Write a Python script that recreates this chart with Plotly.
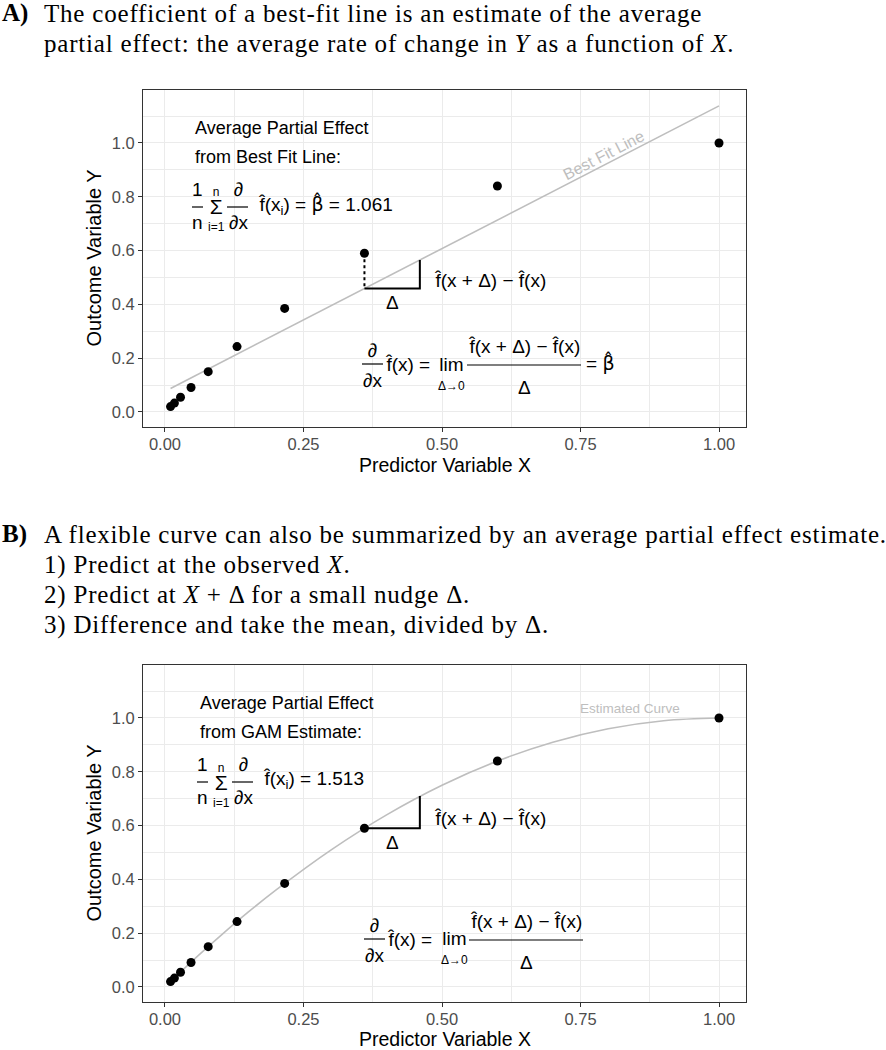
import plotly.graph_objects as go

# ---------------- data ----------------
x_obs = [0.010, 0.017, 0.028, 0.047, 0.078, 0.130, 0.216, 0.360, 0.600, 1.000]
y_obs = [0.020, 0.033, 0.055, 0.091, 0.150, 0.243, 0.385, 0.590, 0.840, 1.000]

fit_intercept = 0.077
fit_slope = 1.061
fit_x = [0.01, 1.0]

curve_x = [0.01, 0.05, 0.10, 0.15, 0.20, 0.30, 0.40, 0.50, 0.60, 0.70, 0.80, 0.90, 1.00]
curve_y = [0.020, 0.098, 0.190, 0.278, 0.360, 0.510, 0.640, 0.750, 0.840, 0.910, 0.960, 0.990, 1.000]

delta_x0 = 0.36
delta = 0.10
obs_at_x0 = 0.59
curve_at_x0 = 0.59
curve_at_x1 = 0.71

ape_line = "1.061"
ape_gam = "1.513"

x_ticks = [0.0, 0.25, 0.50, 0.75, 1.0]
x_tick_labels = ["0.00", "0.25", "0.50", "0.75", "1.00"]
y_ticks = [0.0, 0.2, 0.4, 0.6, 0.8, 1.0]
y_tick_labels = ["0.0", "0.2", "0.4", "0.6", "0.8", "1.0"]

x_title = "Predictor Variable X"
y_title = "Outcome Variable Y"

# ---------------- layout constants ----------------
W, H = 886, 1050
SANS = "Liberation Sans, Arial, Helvetica, sans-serif"
SERIF = "Liberation Serif, Times New Roman, serif"
GRID = "#ebebeb"
BORDER = "#333333"
LINEGRAY = "#bebebe"
HAT = "\u0302"
BETA_HAT = "<span style=\"font-family:'DejaVu Sans'\">\u03b2\u0302</span>"
B_TOP, B_BOTTOM = 665, 1002
DY_B = B_TOP - 90

def px(x):
    return x / W

def py(y):
    return 1 - y / H

fit_y = [fit_intercept + fit_slope * v for v in fit_x]
fit_at = lambda v: fit_intercept + fit_slope * v

fig = go.Figure()

# ---------- Panel A ----------
fig.add_trace(go.Scatter(x=fit_x, y=fit_y, mode="lines",
                         line=dict(color=LINEGRAY, width=1.6),
                         xaxis="x", yaxis="y", hoverinfo="skip"))
fig.add_trace(go.Scatter(x=[delta_x0, delta_x0], y=[obs_at_x0, fit_at(delta_x0)], mode="lines",
                         line=dict(color="black", width=2, dash="dot"),
                         xaxis="x", yaxis="y", hoverinfo="skip"))
fig.add_trace(go.Scatter(x=[delta_x0, delta_x0 + delta, delta_x0 + delta],
                         y=[fit_at(delta_x0), fit_at(delta_x0), fit_at(delta_x0 + delta)],
                         mode="lines", line=dict(color="black", width=2),
                         xaxis="x", yaxis="y", hoverinfo="skip"))
fig.add_trace(go.Scatter(x=x_obs, y=y_obs, mode="markers",
                         marker=dict(color="black", size=9),
                         xaxis="x", yaxis="y"))

# ---------- Panel B ----------
fig.add_trace(go.Scatter(x=curve_x, y=curve_y, mode="lines",
                         line=dict(color=LINEGRAY, width=1.6, shape="spline", smoothing=1.0),
                         xaxis="x2", yaxis="y2", hoverinfo="skip"))
fig.add_trace(go.Scatter(x=[delta_x0, delta_x0 + delta, delta_x0 + delta],
                         y=[curve_at_x0, curve_at_x0, curve_at_x1],
                         mode="lines", line=dict(color="black", width=2),
                         xaxis="x2", yaxis="y2", hoverinfo="skip"))
fig.add_trace(go.Scatter(x=x_obs, y=y_obs, mode="markers",
                         marker=dict(color="black", size=9),
                         xaxis="x2", yaxis="y2"))

annotations = []
shapes = []

def txt(text, x, y, size=19, xanchor="center", color="black", font=SANS, angle=0):
    annotations.append(dict(text=text, x=px(x), y=py(y), xref="paper", yref="paper",
                            xanchor=xanchor, yanchor="middle", showarrow=False,
                            textangle=angle,
                            font=dict(family=font, size=size, color=color)))

def stack(lines, x, y, spacing):
    """Several centred lines in one text, each with its own size, baseline gap = spacing."""
    base = spacing / 1.3
    text = "<br>".join('<span style="font-size:%gpx">%s</span>' % (s, t) for t, s in lines)
    annotations.append(dict(text=text, x=px(x), y=py(y), xref="paper", yref="paper",
                            xanchor="center", yanchor="middle", align="center",
                            showarrow=False, font=dict(family=SANS, size=base, color="black")))

def bar(x0, x1, y):
    shapes.append(dict(type="line", xref="paper", yref="paper",
                       x0=px(x0), x1=px(x1), y0=py(y), y1=py(y),
                       line=dict(color="black", width=1.2)))

def top_formula(dx, dy, label1, label2, rhs):
    txt(label1, 193 + dx, 128 + dy, size=18, xanchor="left")
    txt(label2, 193 + dx, 157 + dy, size=18, xanchor="left")
    stack([("1", 19), ("n", 19)], 197.5 + dx, 205.5 + dy, 33)
    bar(192 + dx, 203 + dx, 207 + dy)
    stack([("n", 12), ("\u03a3", 21), ("i=1", 12)], 216 + dx, 210 + dy, 17.5)
    stack([("\u2202", 19), ("\u2202x", 19)], 238 + dx, 205.5 + dy, 33)
    bar(227 + dx, 248 + dx, 207 + dy)
    txt(rhs, 256 + dx, 205 + dy, xanchor="left")

def lower_formula(dx, dy, with_beta):
    stack([("\u2202", 19), ("\u2202x", 19)], 372 + dx, 365 + dy, 30)
    bar(362 + dx, 383 + dx, 364 + dy)
    txt("f" + HAT + "(x) =", 383 + dx, 364 + dy, xanchor="left")
    stack([("lim", 19), ("\u0394\u21920", 12)], 452 + dx, 373 + dy, 19)
    txt("f" + HAT + "(x + \u0394) \u2212 f" + HAT + "(x)", 524 + dx, 346 + dy)
    bar(467 + dx, 581 + dx, 365 + dy)
    txt("\u0394", 524 + dx, 387 + dy)
    if with_beta:
        txt("= " + BETA_HAT, 584 + dx, 363 + dy, xanchor="left")

def delta_labels(xa, ya, f0, f1):
    annotations.append(dict(text="\u0394", x=delta_x0 + delta / 2, y=f0, xref=xa, yref=ya,
                            xanchor="center", yanchor="middle", yshift=-14, showarrow=False,
                            font=dict(family=SANS, size=19, color="black")))
    annotations.append(dict(text="f" + HAT + "(x + \u0394) \u2212 f" + HAT + "(x)",
                            x=delta_x0 + delta, y=(f0 + f1) / 2,
                            xref=xa, yref=ya, xanchor="left", yanchor="middle",
                            xshift=12, yshift=-6, showarrow=False,
                            font=dict(family=SANS, size=19, color="black")))

# Panel A text
top_formula(0, 0, "Average Partial Effect", "from Best Fit Line:",
            "f" + HAT + "(x<sub>i</sub>) = " + BETA_HAT + " = " + ape_line)
lower_formula(0, 0, True)
delta_labels("x", "y", fit_at(delta_x0), fit_at(delta_x0 + delta))
txt("Best Fit Line", 603, 155, size=16, color=LINEGRAY, angle=-27.3)

# Panel B text
top_formula(5, DY_B, "Average Partial Effect", "from GAM Estimate:",
            "f" + HAT + "(x<sub>i</sub>) = " + ape_gam)
lower_formula(2, DY_B, False)
delta_labels("x2", "y2", curve_at_x0, curve_at_x1)
txt("Estimated Curve", 630, 133 + DY_B, size=13.5, color=LINEGRAY)

# Axis titles
txt(x_title, 444.5, 465, size=19.5)
txt(y_title, 93, 258.5, size=20, angle=-90)
txt(x_title, 444.5, 1038.5, size=19.5)
txt(y_title, 93, (B_TOP + B_BOTTOM) / 2, size=20, angle=-90)

# Panel captions
ts = 25
def cap(s):
    return '<span style="letter-spacing:0.8px">' + s + '</span>'

txt("<b>A)</b>", 0, 13, size=ts, xanchor="left", font=SERIF)
txt(cap("The coefficient of a best-fit line is an estimate of the average"), 42, 13, size=ts, xanchor="left", font=SERIF)
txt(cap("partial effect: the average rate of change in <i>Y</i> as a function of <i>X</i>."), 42, 44, size=ts, xanchor="left", font=SERIF)
txt("<b>B)</b>", 0, 534, size=ts, xanchor="left", font=SERIF)
txt(cap("A flexible curve can also be summarized by an average partial effect estimate."), 42, 534, size=ts, xanchor="left", font=SERIF)
txt(cap("1) Predict at the observed <i>X</i>."), 42, 565, size=ts, xanchor="left", font=SERIF)
txt(cap("2) Predict at <i>X</i> + \u0394 for a small nudge \u0394."), 42, 595, size=ts, xanchor="left", font=SERIF)
txt(cap("3) Difference and take the mean, divided by \u0394."), 42, 625, size=ts, xanchor="left", font=SERIF)

def xaxis_cfg(anchor):
    return dict(domain=[px(143), px(746)], range=[-0.0397, 1.0487], anchor=anchor,
                tickvals=x_ticks, ticktext=x_tick_labels,
                showgrid=True, gridcolor=GRID, gridwidth=1.1,
                minor=dict(tick0=0.125, dtick=0.25, showgrid=True, gridcolor=GRID, gridwidth=0.6),
                showline=True, mirror=True, linecolor=BORDER, linewidth=1.1,
                ticks="outside", ticklen=4, tickwidth=1.1, tickcolor=BORDER,
                ticklabelstandoff=-2,
                tickfont=dict(family=SANS, size=16.5, color="#4d4d4d"),
                zeroline=False, fixedrange=True)

def yaxis_cfg(anchor, top, bottom):
    return dict(domain=[py(bottom), py(top)], range=[-0.0558, 1.197], anchor=anchor,
                tickvals=y_ticks, ticktext=y_tick_labels,
                showgrid=True, gridcolor=GRID, gridwidth=1.1,
                minor=dict(tick0=0.1, dtick=0.2, showgrid=True, gridcolor=GRID, gridwidth=0.6),
                showline=True, mirror=True, linecolor=BORDER, linewidth=1.1,
                ticks="outside", ticklen=4, tickwidth=1.1, tickcolor=BORDER,
                tickfont=dict(family=SANS, size=16.5, color="#4d4d4d"),
                zeroline=False, fixedrange=True)

fig.update_layout(
    width=W, height=H, margin=dict(l=0, r=0, t=0, b=0),
    paper_bgcolor="white", plot_bgcolor="white", showlegend=False,
    xaxis=xaxis_cfg("y"), yaxis=yaxis_cfg("x", 90, 427),
    xaxis2=xaxis_cfg("y2"), yaxis2=yaxis_cfg("x2", B_TOP, B_BOTTOM),
    annotations=annotations, shapes=shapes,
)

fig.write_html("out.html", config={"displayModeBar": False},
               post_script="document.body.style.margin='0px';document.body.style.overflow='hidden';")
